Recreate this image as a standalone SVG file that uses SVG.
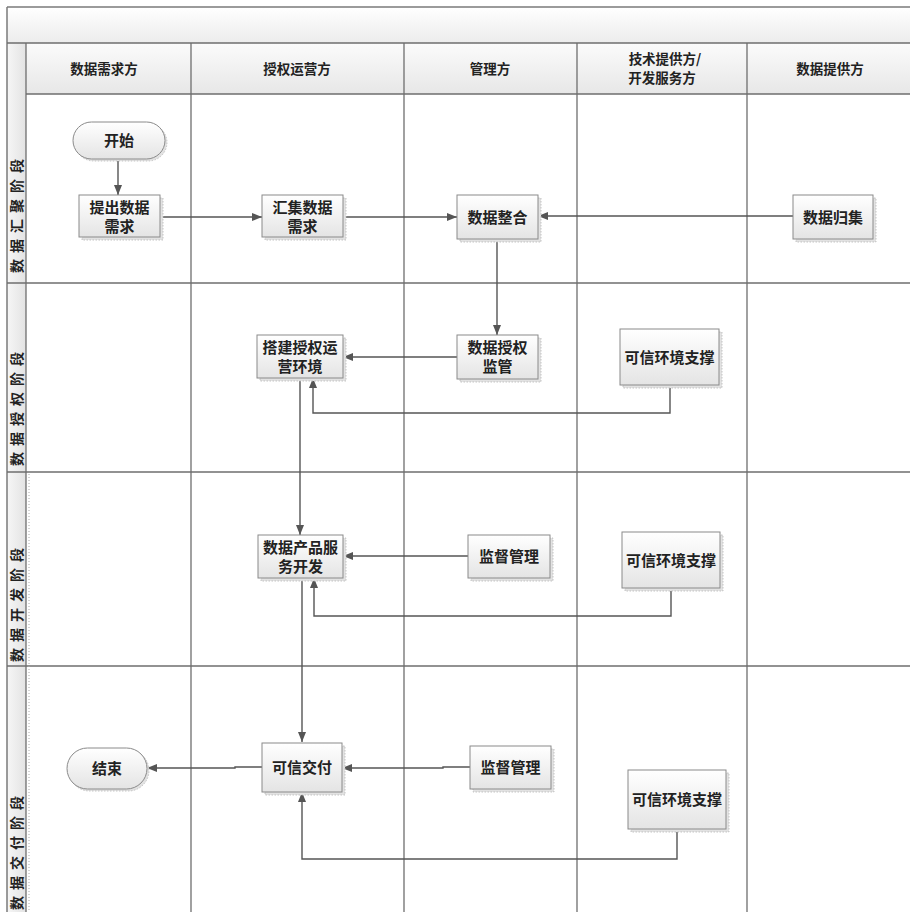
<svg xmlns="http://www.w3.org/2000/svg" width="910" height="912" viewBox="0 0 910 912">
  <defs>
    <linearGradient id="titleGrad" x1="0" y1="0" x2="0" y2="1">
      <stop offset="0" stop-color="#ffffff"/>
      <stop offset="1" stop-color="#ececec"/>
    </linearGradient>
    <linearGradient id="headGrad" x1="0" y1="0" x2="0" y2="1">
      <stop offset="0" stop-color="#fbfbfb"/>
      <stop offset="1" stop-color="#e7e7e7"/>
    </linearGradient>
    <linearGradient id="stageGrad" x1="0" y1="0" x2="1" y2="0">
      <stop offset="0" stop-color="#f6f6f6"/>
      <stop offset="1" stop-color="#e3e3e3"/>
    </linearGradient>
    <linearGradient id="nodeGrad" x1="0" y1="0" x2="0" y2="1">
      <stop offset="0" stop-color="#ffffff"/>
      <stop offset="1" stop-color="#e4e4e4"/>
    </linearGradient>
    <marker id="arrow" markerUnits="userSpaceOnUse" markerWidth="10" markerHeight="8" refX="10" refY="4" orient="auto">
      <path d="M0,0 L10,4 L0,8 Z" fill="#555"/>
    </marker>
    <style>
      .frame { stroke: #7a7a7a; stroke-width: 1.5; fill: none; }
      .grid { stroke: #6e6e6e; stroke-width: 1.3; fill: none; }
      .head { font-family: "Noto Sans CJK SC", "Noto Sans", sans-serif; font-weight: bold; font-size: 13.5px; fill: #222; text-anchor: middle; }
      .stage { font-family: "Noto Sans CJK SC", "Noto Sans", sans-serif; font-weight: bold; font-size: 14px; fill: #222; letter-spacing: 6px; }
      .box { fill: url(#nodeGrad); stroke: #8a8a8a; stroke-width: 1; }
      .shadow { fill: #e2e2e2; stroke: #b8b8b8; stroke-width: 0.8; stroke-dasharray: 1.5 1.5; }
      .label { font-family: "Noto Sans CJK SC", "Noto Sans", sans-serif; font-weight: bold; font-size: 15px; fill: #222; text-anchor: middle; }
      .conn { stroke: #555; stroke-width: 1.4; fill: none; }
    </style>
  </defs>

  <!-- background / frame -->
  <rect x="0" y="0" width="910" height="912" fill="#ffffff"/>
  <g id="frame">
    <rect x="7" y="7" width="910" height="36" fill="url(#titleGrad)"/>
    <rect x="26" y="43" width="890" height="51" fill="url(#headGrad)"/>
    <rect x="7" y="43" width="19" height="875" fill="url(#stageGrad)"/>
    <line class="frame" x1="7" y1="7" x2="910" y2="7"/>
    <line class="frame" x1="7" y1="7" x2="7" y2="912"/>
    <line class="grid" x1="7" y1="43" x2="910" y2="43"/>
    <line class="grid" x1="26" y1="94" x2="910" y2="94"/>
    <line class="grid" x1="26" y1="43" x2="26" y2="912"/>
    <line class="grid" x1="191" y1="43" x2="191" y2="912"/>
    <line class="grid" x1="404" y1="43" x2="404" y2="912"/>
    <line class="grid" x1="577" y1="43" x2="577" y2="912"/>
    <line class="grid" x1="747" y1="43" x2="747" y2="912"/>
    <line class="grid" x1="7" y1="283" x2="910" y2="283"/>
    <line class="grid" x1="7" y1="472" x2="910" y2="472" stroke-width="1.8"/>
    <line class="grid" x1="7" y1="666" x2="910" y2="666" stroke-width="2.2"/>
    <line x1="29" y1="474" x2="29" y2="912" stroke="#aaa" stroke-width="1" stroke-dasharray="1 2"/>
  </g>

  <!-- header texts -->
  <g id="headers">
    <text class="head" x="104" y="74">数据需求方</text>
    <text class="head" x="297" y="74">授权运营方</text>
    <text class="head" x="490" y="74">管理方</text>
    <text class="head" x="665" y="64">技术提供方/</text>
    <text class="head" x="662" y="83">开发服务方</text>
    <text class="head" x="830" y="74">数据提供方</text>
  </g>

  <!-- stage labels -->
  <g id="stages">
    <text class="stage" transform="translate(22,273) rotate(-90)">数据汇聚阶段</text>
    <text class="stage" transform="translate(22,466) rotate(-90)">数据授权阶段</text>
    <text class="stage" transform="translate(22,662) rotate(-90)">数据开发阶段</text>
    <text class="stage" transform="translate(22,910) rotate(-90)">数据交付阶段</text>
  </g>

  <!-- connectors -->
  <g id="connectors">
    <path class="conn" d="M118,159 V195" marker-end="url(#arrow)"/>
    <path class="conn" d="M160,217 H262" marker-end="url(#arrow)"/>
    <path class="conn" d="M343,217 H457" marker-end="url(#arrow)"/>
    <path class="conn" d="M793,216 H538" marker-end="url(#arrow)"/>
    <path class="conn" d="M497,239 V335" marker-end="url(#arrow)"/>
    <path class="conn" d="M457,357 H343" marker-end="url(#arrow)"/>
    <path class="conn" d="M670,385 V413 H313 V378" marker-end="url(#arrow)"/>
    <path class="conn" d="M300,378 V535" marker-end="url(#arrow)"/>
    <path class="conn" d="M468,556 H343" marker-end="url(#arrow)"/>
    <path class="conn" d="M671,588 V616 H314 V578" marker-end="url(#arrow)"/>
    <path class="conn" d="M302,578 V742" marker-end="url(#arrow)"/>
    <path class="conn" d="M262,767 H235 V768 H147" marker-end="url(#arrow)"/>
    <path class="conn" d="M470,767 H443 V768 H342" marker-end="url(#arrow)"/>
    <path class="conn" d="M677,829 V859 H302 V792" marker-end="url(#arrow)"/>
  </g>

  <!-- nodes -->
  <g id="n-start">
    <rect class="shadow" x="75" y="124" width="92" height="37" rx="18.5"/>
    <rect class="box" x="73" y="122" width="92" height="37" rx="18.5"/>
    <text class="label" x="119" y="145.5">开始</text>
  </g>
  <g id="n-tichu">
    <rect class="shadow" x="82" y="198" width="81" height="42"/>
    <rect class="box" x="79" y="195" width="81" height="42"/>
    <text class="label" x="119.5" y="212.5">提出数据</text>
    <text class="label" x="119.5" y="231.5">需求</text>
  </g>
  <g id="n-huiji">
    <rect class="shadow" x="265" y="198" width="81" height="42"/>
    <rect class="box" x="262" y="195" width="81" height="42"/>
    <text class="label" x="302.5" y="212.5">汇集数据</text>
    <text class="label" x="302.5" y="231.5">需求</text>
  </g>
  <g id="n-zhenghe">
    <rect class="shadow" x="460" y="198" width="81" height="44"/>
    <rect class="box" x="457" y="195" width="81" height="44"/>
    <text class="label" x="497.5" y="222.5">数据整合</text>
  </g>
  <g id="n-guiji">
    <rect class="shadow" x="796" y="198" width="80" height="44"/>
    <rect class="box" x="793" y="195" width="80" height="44"/>
    <text class="label" x="833" y="222.5">数据归集</text>
  </g>
  <g id="n-dajian">
    <rect class="shadow" x="260" y="338" width="86" height="43"/>
    <rect class="box" x="257" y="335" width="86" height="43"/>
    <text class="label" x="300" y="352.5">搭建授权运</text>
    <text class="label" x="300" y="372">营环境</text>
  </g>
  <g id="n-jianguan">
    <rect class="shadow" x="460" y="338" width="81" height="44"/>
    <rect class="box" x="457" y="335" width="81" height="44"/>
    <text class="label" x="497.5" y="352.5">数据授权</text>
    <text class="label" x="497.5" y="371.5">监管</text>
  </g>
  <g id="n-kexin1">
    <rect class="shadow" x="623" y="332" width="99" height="56"/>
    <rect class="box" x="620" y="329" width="99" height="56"/>
    <text class="label" x="669.5" y="362.5">可信环境支撑</text>
  </g>
  <g id="n-kaifa">
    <rect class="shadow" x="261" y="538" width="85" height="43"/>
    <rect class="box" x="258" y="535" width="85" height="43"/>
    <text class="label" x="300.5" y="552.5">数据产品服</text>
    <text class="label" x="300.5" y="571.5">务开发</text>
  </g>
  <g id="n-jiandu1">
    <rect class="shadow" x="471" y="538" width="82" height="43"/>
    <rect class="box" x="468" y="535" width="82" height="43"/>
    <text class="label" x="509" y="561.5">监督管理</text>
  </g>
  <g id="n-kexin2">
    <rect class="shadow" x="625" y="535" width="98" height="56"/>
    <rect class="box" x="622" y="532" width="98" height="56"/>
    <text class="label" x="671" y="565.5">可信环境支撑</text>
  </g>
  <g id="n-end">
    <rect class="shadow" x="69" y="750" width="80" height="41" rx="20.5"/>
    <rect class="box" x="67" y="748" width="80" height="41" rx="20.5"/>
    <text class="label" x="107" y="774">结束</text>
  </g>
  <g id="n-jiaofu">
    <rect class="shadow" x="265" y="746" width="80" height="49"/>
    <rect class="box" x="262" y="743" width="80" height="49"/>
    <text class="label" x="302" y="773">可信交付</text>
  </g>
  <g id="n-jiandu2">
    <rect class="shadow" x="473" y="749" width="81" height="43"/>
    <rect class="box" x="470" y="746" width="81" height="43"/>
    <text class="label" x="510.5" y="773">监督管理</text>
  </g>
  <g id="n-kexin3">
    <rect class="shadow" x="631" y="773" width="98" height="59"/>
    <rect class="box" x="628" y="770" width="98" height="59"/>
    <text class="label" x="677" y="805">可信环境支撑</text>
  </g>
</svg>
